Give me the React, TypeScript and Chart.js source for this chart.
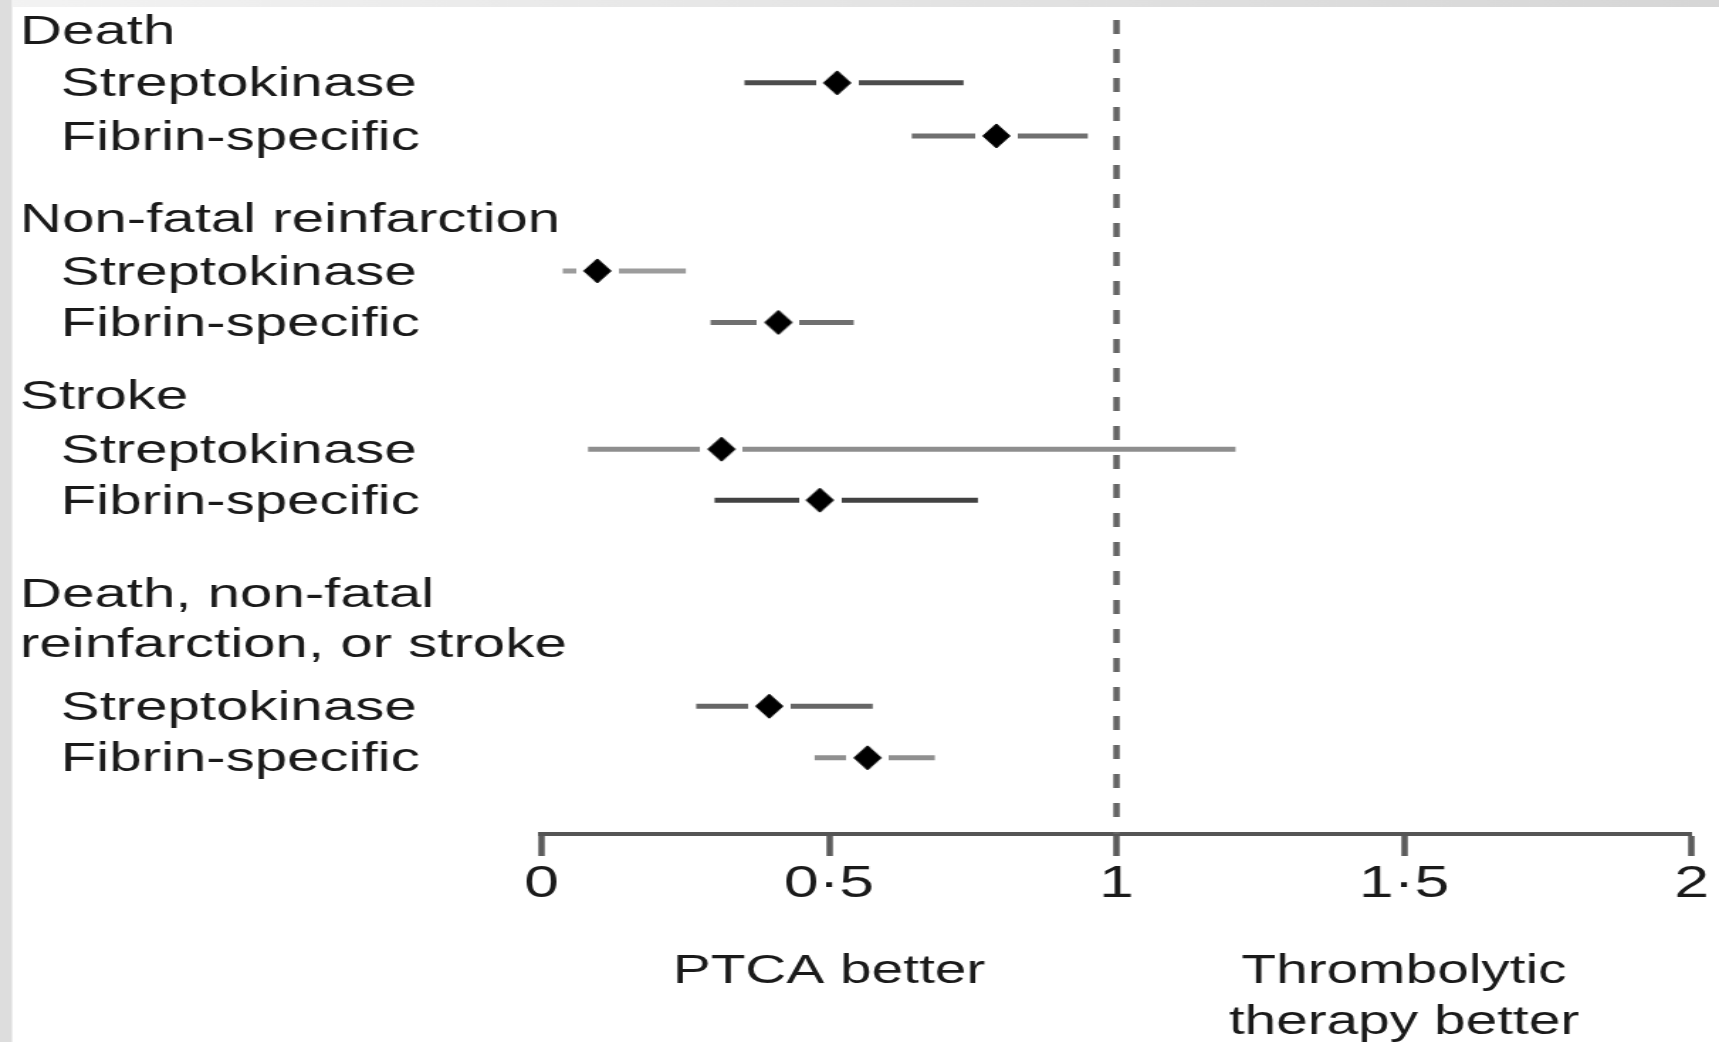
import React, { useEffect, useRef } from 'react';
import { Chart, registerables } from 'chart.js';

Chart.register(...registerables);

// ---- data ----
const groupHeaders = ['Death', 'Non-fatal reinfarction', 'Stroke', 'Death, non-fatal', 'reinfarction, or stroke'];
const headerRows = [0, 3.65, 7.09, 10.92, 11.9];
const treatments = [
  'Streptokinase', 'Fibrin-specific',
  'Streptokinase', 'Fibrin-specific',
  'Streptokinase', 'Fibrin-specific',
  'Streptokinase', 'Fibrin-specific',
];
const treatmentRows = [1.02, 2.05, 4.67, 5.67, 8.13, 9.12, 13.12, 14.12];
const oddsRatio = [0.514, 0.791, 0.097, 0.412, 0.313, 0.484, 0.396, 0.567];
const ciLower = [0.353, 0.644, 0.037, 0.294, 0.081, 0.301, 0.269, 0.475];
const ciUpper = [0.734, 0.95, 0.251, 0.543, 1.207, 0.759, 0.576, 0.684];
const xTickValues = [0, 0.5, 1, 1.5, 2];
const xTickLabels = ['0', '0·5', '1', '1·5', '2'];
const referenceValue = 1;
const favourAt = [0.5, 1.5];
const favourLabels = [['PTCA better'], ['Thrombolytic', 'therapy better']];

// ---- styles ----
const ciColors = ['#4c4c4c', '#707070', '#9c9c9c', '#707070', '#8e8e8e', '#424242', '#666666', '#909090'];
const FAMILY = '"Liberation Sans", Arial, sans-serif';
const TEXT = '#1a1a1a';
const INDENT = '\u2002\u2009';
const FULL_W = 1719;
const FULL_H = 1042;
const INNER_W = 1211; // canvas drawn narrower and shown stretched, like the reference
const Y_MIN = -0.2;
const Y_MAX = 15.6;
const Y_AXIS_W = 365.98;
const LABEL_X = 14.1;
const LABEL_NUDGE = 0.045;

const labelRows = [...headerRows, ...treatmentRows];
const labelTexts = [...groupHeaders, ...treatments.map((t) => INDENT + t)];

function makeMarker(): HTMLCanvasElement {
  const c = document.createElement('canvas');
  c.width = 30;
  c.height = 26;
  const g = c.getContext('2d')!;
  g.fillStyle = '#ffffff';
  g.fillRect(0, 8.5, 30, 9);
  g.fillStyle = '#000000';
  g.strokeStyle = '#000000';
  g.lineJoin = 'round';
  g.lineWidth = 1;
  g.beginPath();
  g.moveTo(15, 1);
  g.lineTo(24.5, 13);
  g.lineTo(15, 25);
  g.lineTo(5.5, 13);
  g.closePath();
  g.fill();
  g.stroke();
  return c;
}

const framePlugin = {
  id: 'frame',
  beforeDraw(chart: any) {
    const { ctx, width, height } = chart;
    ctx.save();
    ctx.fillStyle = '#ffffff';
    ctx.fillRect(0, 0, width, height);
    ctx.fillStyle = '#dddddd';
    ctx.fillRect(0, 0, 8.5, height);
    const g = ctx.createLinearGradient(0, 0, width, 0);
    g.addColorStop(0, '#f3f3f3');
    g.addColorStop(1, '#d6d6d6');
    ctx.fillStyle = g;
    ctx.fillRect(8.5, 0, width, 7);
    ctx.restore();
  },
  afterDraw(chart: any) {
    const { ctx } = chart;
    const xs = chart.scales.x;
    ctx.save();
    ctx.font = `40px ${FAMILY}`;
    ctx.fillStyle = TEXT;
    ctx.textAlign = 'center';
    ctx.textBaseline = 'middle';
    favourLabels.forEach((lines, i) => {
      const px = xs.getPixelForValue(favourAt[i]);
      lines.forEach((t, j) => ctx.fillText(t, px, 972 + j * 51));
    });
    ctx.restore();
  },
};

export default function App() {
  const ref = useRef<HTMLCanvasElement>(null);

  useEffect(() => {
    const canvas = ref.current;
    if (!canvas) return;
    const marker = makeMarker();

    const ciSets = oddsRatio.map((_, i) => ({
      type: 'scatter',
      data: [
        { x: ciLower[i], y: treatmentRows[i] },
        { x: ciUpper[i], y: treatmentRows[i] },
      ],
      showLine: true,
      borderColor: ciColors[i],
      borderWidth: 5,
      borderCapStyle: 'butt',
      pointRadius: 0,
      order: 4,
    }));

    const chart = new Chart(canvas, {
      type: 'scatter',
      data: {
        datasets: [
          ...ciSets,
          {
            data: [
              { x: referenceValue, y: Y_MIN },
              { x: referenceValue, y: Y_MAX },
            ],
            showLine: true,
            borderColor: '#666666',
            borderWidth: 4.5,
            borderDash: [14, 15],
            pointRadius: 0,
            order: 3,
          },
          {
            data: oddsRatio.map((v, i) => ({ x: v, y: treatmentRows[i] })),
            showLine: false,
            pointStyle: marker,
            pointRadius: 10,
            order: 1,
          },
        ] as any,
      },
      options: {
        responsive: false,
        animation: false,
        devicePixelRatio: 1,
        events: [],
        layout: { padding: { left: 15.5, right: 19.37, top: 20, bottom: 0 } },
        plugins: { legend: { display: false }, tooltip: { enabled: false } },
        scales: {
          x: {
            type: 'linear',
            position: 'bottom',
            min: 0,
            max: 2,
            grid: {
              display: true,
              drawOnChartArea: false,
              drawTicks: true,
              tickLength: 22,
              tickWidth: 4.5,
              tickColor: '#5c5c5c',
            },
            border: { display: true, color: '#555555', width: 4 },
            afterBuildTicks: (s: any) => {
              s.ticks = xTickValues.map((v) => ({ value: v }));
            },
            afterFit: (s: any) => {
              s.height = FULL_H - 834;
              s.paddingLeft = 0;
              s.paddingRight = 0;
            },
            ticks: {
              autoSkip: false,
              maxRotation: 0,
              padding: 2,
              color: TEXT,
              font: { family: FAMILY, size: 44 },
              callback: (_v: any, i: number) => xTickLabels[i],
            },
          },
          y: {
            type: 'linear',
            position: 'left',
            reverse: true,
            min: Y_MIN,
            max: Y_MAX,
            grid: { display: false },
            border: { display: false },
            afterBuildTicks: (s: any) => {
              s.ticks = labelRows.map((v) => ({ value: v + LABEL_NUDGE }));
            },
            afterFit: (s: any) => {
              s.width = Y_AXIS_W;
              s.paddingTop = 0;
              s.paddingBottom = 0;
            },
            ticks: {
              autoSkip: false,
              mirror: true,
              crossAlign: 'near',
              padding: -(15.5 + Y_AXIS_W - LABEL_X),
              color: TEXT,
              font: { family: FAMILY, size: 41, lineHeight: 0.8 },
              callback: (_v: any, i: number) => labelTexts[i],
            },
          },
        } as any,
      },
      plugins: [framePlugin],
    });

    return () => chart.destroy();
  }, []);

  return (
    <div style={{ position: 'fixed', left: 0, top: 0, width: FULL_W, height: FULL_H, background: '#fff' }}>
      <canvas
        ref={ref}
        width={INNER_W}
        height={FULL_H}
        style={{ width: `${FULL_W}px`, height: `${FULL_H}px`, display: 'block' }}
      />
    </div>
  );
}
